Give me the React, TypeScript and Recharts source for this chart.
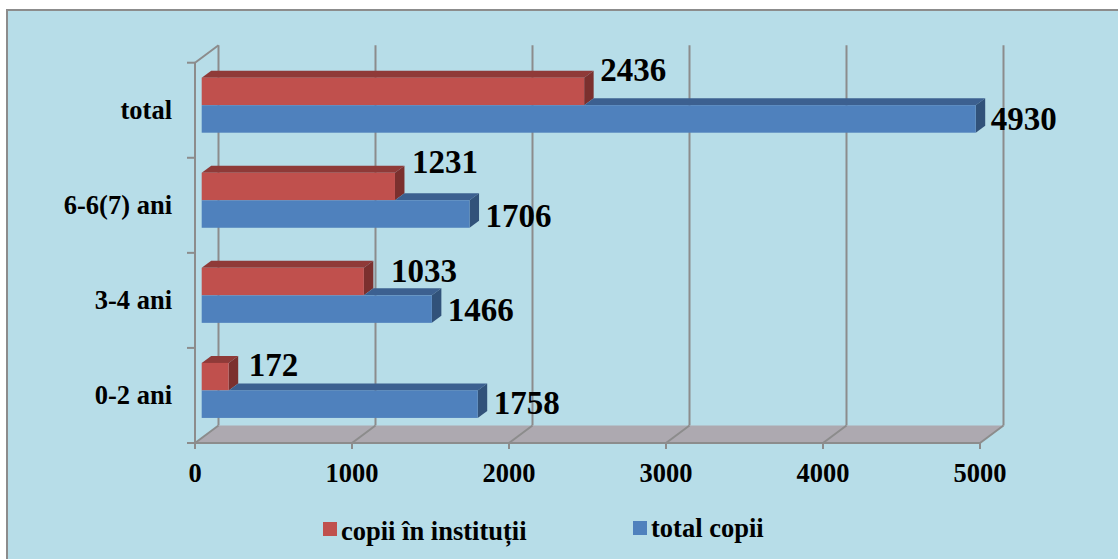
import { Bar, BarChart, CartesianGrid, LabelList, Legend, ReferenceArea, XAxis, YAxis } from "recharts";

const categories = ["total", "6-6(7) ani", "3-4 ani", "0-2 ani"];
const inInstitutions = [2436, 1231, 1033, 172];
const totalChildren = [4930, 1706, 1466, 1758];
const xTicks = [0, 1000, 2000, 3000, 4000, 5000];

// the labels were moved by hand in the original, so each one has its own nudge
const redLabelNudge = [
  [16, -21],
  [17, -25],
  [27, -11],
  [20, -12],
];
const blueLabelNudge = [
  [15, 0],
  [16, 2],
  [16, 1],
  [16, -1],
];

const data = categories.map((name, i) => ({
  name,
  inst: inInstitutions[i],
  total: totalChildren[i],
}));

const FONT = '"Liberation Serif", serif';
const GRID = "#8c8c8c";
const RED = "#c0504d";
const BLUE = "#4f81bd";

// fake 3d: bars sit a bit behind the front plane, grid sits on the back wall
const BAR_DX = 9.5;
const BAR_DY = 7;
const FRONT_DX = -6.7;
const FRONT_DY = 5;
const BACK_DX = 16.8;
const BACK_DY = -12.5;

function Box({ x, y, width, height, face, top, side, topFrom }: any) {
  const start = topFrom ?? x;
  const end = x + width;
  const bottom = y + height;
  return (
    <g>
      <polygon
        points={`${start},${y} ${start + BAR_DX},${y - BAR_DY} ${end + BAR_DX},${y - BAR_DY} ${end},${y}`}
        fill={top}
      />
      <polygon
        points={`${end},${y} ${end + BAR_DX},${y - BAR_DY} ${end + BAR_DX},${bottom - BAR_DY} ${end},${bottom}`}
        fill={side}
      />
      <rect x={x} y={y} width={width} height={height} fill={face} />
    </g>
  );
}

function RedBar(props: any) {
  return <Box {...props} face={RED} top="#8f3a38" side="#7b302e" />;
}

// red stands in front of the blue top face, so that face starts where red ends
function BlueBar(props: any) {
  const { x, width, payload } = props;
  const redEnd = x + (width * payload.inst) / payload.total;
  return <Box {...props} face={BLUE} top="#3c6090" side="#31527a" topFrom={redEnd} />;
}

function Floor({ x, y, width, height }: any) {
  const bottom = y + height;
  const left = x + FRONT_DX;
  const right = left + width;
  const frontBottom = bottom + FRONT_DY;
  const backBottom = bottom + BACK_DY;
  const frontTop = y + FRONT_DY;
  const band = height / categories.length;
  return (
    <g>
      <polygon
        points={`${left},${frontBottom} ${x + BACK_DX},${backBottom} ${x + width + BACK_DX},${backBottom} ${right},${frontBottom}`}
        fill="#ada9b0"
      />
      {xTicks.map((t) => {
        const tx = x + (width * t) / xTicks[xTicks.length - 1];
        return (
          <line
            key={t}
            x1={tx + BACK_DX}
            y1={backBottom}
            x2={tx + FRONT_DX}
            y2={frontBottom}
            stroke={GRID}
            strokeWidth={2}
          />
        );
      })}
      <line x1={left} y1={frontTop} x2={left} y2={frontBottom} stroke={GRID} strokeWidth={2} />
      <line x1={left} y1={frontBottom} x2={right} y2={frontBottom} stroke={GRID} strokeWidth={2} />
      <line x1={left} y1={frontTop} x2={x + BACK_DX} y2={y + BACK_DY} stroke={GRID} strokeWidth={2} />
      {categories.concat("").map((_, i) => (
        <line
          key={i}
          x1={left - 8}
          x2={left}
          y1={frontTop + band * i}
          y2={frontTop + band * i}
          stroke={GRID}
          strokeWidth={2}
        />
      ))}
    </g>
  );
}

function WallLine({ x1, y1, y2 }: any) {
  const backX = x1 + BACK_DX;
  return <line x1={backX} y1={y1 + BACK_DY} x2={backX} y2={y2 + BACK_DY} stroke={GRID} strokeWidth={2} />;
}

function XTick({ x, y, payload }: any) {
  const tx = x + FRONT_DX;
  return (
    <g>
      <line x1={tx} x2={tx} y1={y} y2={y + 6} stroke={GRID} strokeWidth={2} />
      <text x={tx} y={y + 39} textAnchor="middle" fontFamily={FONT} fontWeight="bold" fontSize={26.5} fill="#000">
        {payload.value}
      </text>
    </g>
  );
}

function YTick({ y, payload }: any) {
  return (
    <text x={172} y={y + 14} textAnchor="end" fontFamily={FONT} fontWeight="bold" fontSize={26.5} fill="#000">
      {payload.value}
    </text>
  );
}

function valueLabel(nudges: number[][]) {
  return ({ x, y, width, height, value, index }: any) => (
    <text
      x={x + width + nudges[index][0]}
      y={y + height / 2 + nudges[index][1] + 11}
      fontFamily={FONT}
      fontWeight="bold"
      fontSize={33}
      fill="#000"
    >
      {value}
    </text>
  );
}

const legendSpots = [
  { left: 323, top: 522, textTop: 16 },
  { left: 633, top: 521, textTop: 13 },
];

function LegendBox({ payload }: any) {
  return (
    <div style={{ position: "relative", width: 1118, height: 59 }}>
      {(payload || []).map((item: any, i: number) => (
        <div key={item.value}>
          <span
            style={{
              position: "absolute",
              left: legendSpots[i].left,
              top: legendSpots[i].top - 500,
              width: 14,
              height: 14,
              background: item.color,
            }}
          />
          <span
            style={{
              position: "absolute",
              left: legendSpots[i].left + 18,
              top: legendSpots[i].textTop,
              fontFamily: FONT,
              fontWeight: "bold",
              fontSize: 26.5,
              whiteSpace: "nowrap",
              color: "#000",
            }}
          >
            {item.value}
          </span>
        </div>
      ))}
    </div>
  );
}

export default function App() {
  return (
    <div style={{ position: "fixed", left: 0, top: 0, width: 1118, height: 559, overflow: "hidden", background: "#fff" }}>
      <div
        style={{
          position: "absolute",
          left: 6,
          top: 9,
          width: 1130,
          height: 570,
          background: "#b7dde8",
          border: "2px solid #8c8c8c",
          boxSizing: "border-box",
        }}
      />
      <BarChart
        width={1118}
        height={559}
        data={data}
        layout="vertical"
        barSize={27.5}
        barGap={0}
        margin={{ top: 57.7, left: 101.7, right: 131.3, bottom: 81 }}
        style={{ position: "absolute", left: 0, top: 0 }}
      >
        <ReferenceArea x1={0} x2={5000} shape={Floor} ifOverflow="visible" />
        <CartesianGrid horizontal={false} vertical={WallLine} />
        <XAxis
          type="number"
          domain={[0, 5000]}
          ticks={xTicks}
          height={40}
          axisLine={false}
          tickLine={false}
          tickSize={0}
          tickMargin={5}
          interval={0}
          tick={XTick}
        />
        <YAxis type="category" dataKey="name" width={100} axisLine={false} tickLine={false} tick={YTick} interval={0} />
        <Legend
          verticalAlign="middle"
          content={LegendBox}
          wrapperStyle={{ left: 0, top: 500, width: 1118, height: 59 }}
        />
        <Bar dataKey="inst" name="copii în instituții" fill={RED} shape={RedBar} isAnimationActive={false}>
          <LabelList dataKey="inst" content={valueLabel(redLabelNudge)} />
        </Bar>
        <Bar dataKey="total" name="total copii" fill={BLUE} shape={BlueBar} isAnimationActive={false}>
          <LabelList dataKey="total" content={valueLabel(blueLabelNudge)} />
        </Bar>
      </BarChart>
    </div>
  );
}
